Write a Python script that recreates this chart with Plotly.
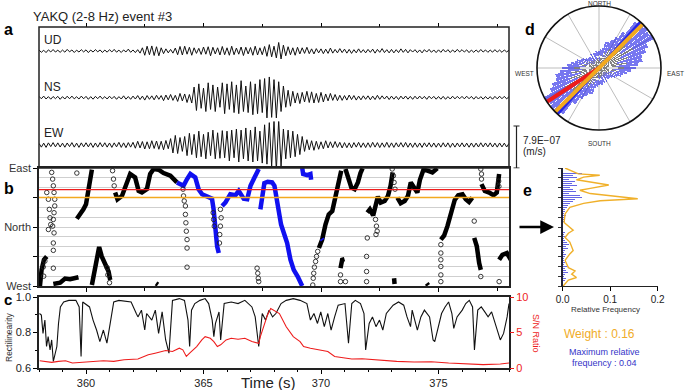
import numpy as np
import plotly.graph_objects as go

W, H = 685, 390
def fx(p): return p / W
def fy(p): return 1 - p / H

FONT = "Liberation Sans, Arial, sans-serif"

# ---------------- panel a : waveforms (nm/s), sampled every 0.1 s from 358 s
T0, DT = 358.0, 0.1
UD = [20,-25,15,-30,22,-18,28,-20,15,-25, 18,-22,30,-15,20,-28,16,-20,25,-18,
      22,-30,18,-20,26,-15,20,-28,18,-22, 25,-18,30,-22,15,-28,20,-18,35,-25,
      20,-30,25,-40,60,-80,90,-70,95,-85, 80,-90,60,-50,40,-35,30,-40,55,-70,
      85,-75,90,-60,70,-80,60,-45,50,-65, 75,-60,80,-90,70,-55,60,-75,85,-70,
      60,-80,90,-70,55,-60,75,-85,70,-55, 65,-80,90,-75,60,-70,85,-100,120,-110,
      90,-130,160,-150,110,-90,80,-70,60,-80, 70,-55,60,-45,70,-50,40,-55,45,-35,
      40,-50,35,-45,55,-40,30,-35,45,-30, 35,-40,30,-45,25,-35,40,-30,25,-35,
      30,-25,35,-40,30,-25,45,-30,25,-35, 30,-35,25,-30,40,-25,30,-35,25,-20,
      25,-30,20,-35,25,-20,30,-25,20,-30, 22,-25,30,-20,25,-28,20,-22,30,-18,
      25,-20,22,-30,18,-25,20,-22,28,-20, 20,-25,18,-22,25,-20,18,-25,20,-18, 15]
NS = [25,-20,30,-25,20,-28,22,-18,25,-30, 20,-25,28,-20,30,-22,18,-25,30,-20,
      25,-30,20,-28,25,-18,30,-22,20,-25, 28,-20,25,-30,20,-25,35,-28,22,-30,
      30,-25,40,-35,30,-45,40,-30,35,-40, 45,-30,40,-55,50,-40,60,-50,45,-70,
      80,-60,70,-90,60,-100,200,-240,260,-200, 180,-260,280,-220,240,-260,200,-180,280,-300,
      260,-220,300,-280,240,-300,320,-260,220,-280, 300,-320,260,-300,340,-280,360,-380,390,-370,
      340,-380,300,-260,220,-180,140,-160,120,-100, 90,-110,100,-80,120,-90,110,-100,80,-90,
      100,-80,70,-60,80,-50,60,-55,45,-50, 40,-45,50,-35,40,-45,30,-40,35,-30,
      35,-40,30,-35,45,-30,35,-25,30,-35, 30,-28,25,-35,30,-25,32,-28,25,-30,
      28,-25,30,-22,25,-30,28,-20,25,-28, 22,-28,25,-30,20,-25,28,-22,25,-20,
      25,-22,28,-20,25,-28,22,-25,20,-28, 22,-25,20,-28,25,-22,28,-20,25,-22, 20]
EW = [30,-40,35,-45,40,-30,45,-35,40,-38, 35,-42,38,-30,45,-40,35,-45,40,-35,
      42,-35,40,-45,38,-40,45,-35,42,-40, 38,-45,40,-35,50,-45,40,-50,45,-40,
      50,-60,70,-55,65,-75,60,-70,80,-65, 75,-80,70,-90,85,-70,120,-150,180,-160,
      140,-120,160,-200,220,-180,200,-240,260,-220, 200,-260,240,-200,280,-260,230,-250,270,-240,
      260,-300,280,-240,300,-320,280,-260,320,-300, 280,-320,340,-300,260,-340,380,-360,420,-400,
      460,-480,470,-400,300,-260,280,-240,260,-220, 200,-180,160,-120,100,-90,80,-100,70,-80,
      60,-70,80,-55,60,-50,65,-45,50,-55, 45,-50,40,-55,45,-40,50,-45,40,-48,
      42,-45,50,-40,45,-48,40,-42,50,-45, 40,-45,42,-38,45,-40,48,-42,38,-45,
      40,-42,38,-45,40,-35,42,-40,38,-42, 35,-40,42,-38,40,-45,35,-40,38,-35,
      40,-38,35,-42,38,-40,35,-38,42,-36, 38,-35,40,-38,35,-40,38,-36,35,-38, 30]
SCALE_BAR = 790.0          # 7.9E-07 m/s in nm/s
SCALE_LABEL = "7.9E\u221207"

# ---------------- panel b : azimuth (deg, East=90, North=0, West=-90)
BLACK_SEGS = [
    ([358.04, 358.11, 358.21, 358.33], [-90, -65.4, -50, -44.9]),
    ([358.61, 358.90, 359.11, 359.32, 359.68], [-86.9, -84.9, -78.7, -79.7, -76.7]),
    ([359.61, 359.75, 359.89, 360.0, 360.10, 360.17, 360.25], [12.6, 19.2, 26.9, 34.6, 55.1, 78.2, 87.4]),
    ([360.25, 360.39, 360.46, 360.56, 360.67, 360.81, 360.96, 361.03], [-88.5, -65.4, -50, -30.5, -44.9, -55.1, -67.9, -80.8]),
    ([361.24, 361.34, 361.53, 361.67, 361.88, 362.09, 362.24, 362.38, 362.59, 362.73, 362.88, 363.09, 363.30, 363.59, 363.87],
     [52.6, 42.3, 47.4, 62.8, 80.8, 75.6, 55.1, 52.6, 57.7, 80.8, 88.5, 87.4, 82.3, 78.2, 68.0]),
    ([362.98, 363.06], [-86, -88]),
    ([369.91, 370.05, 370.19, 370.33, 370.48, 370.58, 370.69, 370.80, 370.86], [-32.1, -19.2, 3.8, 19.2, 24.4, 42.3, 57.7, 75.6, 85.9]),
    ([371.04, 371.14, 371.29, 371.43, 371.57, 371.68, 371.77], [88.5, 75.6, 60.3, 57.7, 68, 82.3, 89.5]),
    ([370.83, 370.90, 371.0], [-62.8, -50, -49]),
    ([371.97, 372.08, 372.22, 372.32, 372.42, 372.54, 372.71, 372.85, 372.96, 373.05], [21.8, 26.9, 17.7, 32.1, 46.4, 37.2, 39.7, 47.4, 62.8, 83.3]),
    ([373.11, 373.13], [-78.2, -86.9]),
    ([373.25, 373.39, 373.56, 373.70, 373.82, 373.99, 374.10, 374.21, 374.36, 374.53, 374.74, 374.95],
     [44.9, 36.2, 39.7, 47.4, 68, 60.3, 52.6, 72, 87.4, 85.9, 83.3, 89.5]),
    ([374.50, 374.56], [-86, -89]),
    ([375.10, 375.24, 375.38, 375.49, 375.59, 375.69, 375.84, 376.02, 376.16, 376.30, 376.44],
     [-19.2, -13, 1.3, 14.1, 26.9, 41.3, 48.5, 50, 42.3, 38.2, 44.9]),
    ([376.83, 376.97, 377.16, 377.34, 377.48, 377.58], [65.4, 55.1, 52.6, 48.5, 52.6, 80.8]),
    ([376.52, 376.63, 376.73, 376.80], [-16.7, -29.5, -55.1, -65.4]),
    ([377.58, 377.72, 377.91, 378.08], [-50, -42.3, -39.7, -50]),
]
BLUE_SEGS = [
    ([363.87, 364.15, 364.30, 364.44, 364.65, 364.79, 364.94, 365.15, 365.36, 365.43, 365.51, 365.58, 365.65],
     [68, 62.8, 73.1, 80.8, 75.6, 57.7, 50, 46.4, 43.3, 26.9, -9, -29.5, -39.7]),
    ([365.79, 365.93, 366.14, 366.36, 366.50, 366.71, 366.86, 367.00, 367.17, 367.35],
     [32.1, 37.2, 50, 48.5, 55.1, 43.3, 42.3, 62.8, 75.6, 88.5]),
    ([367.42, 367.49, 367.59, 367.73, 367.92, 368.02, 368.10, 368.20, 368.30, 368.44, 368.56, 368.70, 368.84, 369.01, 369.20],
     [26.9, 47.4, 66.9, 69, 68, 62.8, 44.9, 26.9, 3.8, -11.5, -24.4, -50, -65.4, -75.6, -90]),
    ([369.20, 369.24, 369.41, 369.55, 369.58], [90, 80.8, 79.2, 80.8, 72]),
    ([370.03, 370.07], [-18, -20]),
]
CIRC_T = [358.54, 358.58, 358.61, 358.64, 358.67, 358.67, 358.64, 358.61, 358.58, 358.64, 358.61, 358.61,
          358.33, 358.40, 358.44, 358.47, 358.50, 358.40, 358.61, 358.18, 358.25, 358.20, 359.61,
          361.13, 361.17, 361.20, 360.93, 361.00, 360.90,
          364.13, 364.15, 364.18, 364.23, 364.23, 364.25, 364.27, 364.30, 364.30, 364.30,
          365.41, 365.43, 365.46, 365.72, 365.75, 365.72, 365.69, 365.68,
          367.28, 367.31, 367.33, 367.35,
          369.65, 369.67, 369.69, 369.72, 369.77, 369.81, 369.86,
          371.97, 371.94, 371.94, 371.94, 370.83, 371.04, 370.83,
          372.32, 372.36, 372.39, 372.34, 373.03, 373.08, 373.11, 373.15,
          375.10, 375.10, 375.10, 375.10, 375.10, 375.10, 376.52,
          376.80, 376.83, 376.83, 377.58, 377.56, 377.57, 376.80]
CIRC_AZ = [83.3, 73.1, 62.8, 52.6, 42.3, 32.1, 21.8, 11.5, 1.3, -9, -24.4, -35.6,
           52.6, 42.3, 26.9, 14.1, 3.8, -3.8, -62.8, -61, -52, -75, 82.3,
           85.9, 73.1, 62.8, -73, -85, -62,
           57.7, 47.4, 39.7, 32.1, 19.2, 6.4, -6.4, -19.2, -32.1, -61.3,
           21.8, 11.5, 1.3, 26.9, 14.1, 1.3, -11.5, -24.4,
           -62.8, -70.5, -78.2, -83.3,
           -88.5, -78.2, -70.5, -61.3, -52.6, -44.9, -37.2,
           -16.7, -44.9, -67.9, -83.3, -73.1, -83.3, -83.3,
           11.5, 1.3, -6.4, -11.5, 88.5, 78.2, 68, 57.7,
           -26.9, -39.7, -50, -60.3, -73.1, -83.3, 9,
           88.5, 80.8, 73.1, -83.3, 70, 62, -75.6]
RED_AZ = 57       # direction marked in red
ORANGE_AZ = 45    # weighted direction (orange)
BLUE_LINE_AZ = 42 # maximum relative frequency direction

# ---------------- panel c
RECT_T = [358.02, 358.10, 358.17, 358.25, 358.32, 358.39, 358.47, 358.54, 358.61, 358.69, 358.76, 358.83, 358.91,
          359.05, 359.27, 359.57, 359.71, 359.79, 359.86, 360.15, 360.30, 360.45, 360.59, 360.74, 360.89, 361.03,
          361.18, 361.40, 361.62, 361.92, 362.14, 362.21, 362.36, 362.50, 362.58, 362.80, 362.95, 363.09, 363.24,
          363.39, 363.53, 363.68, 363.97, 364.19, 364.34, 364.41, 364.49, 364.63, 364.85, 365.07, 365.22, 365.37,
          365.44, 365.51, 365.66, 365.73, 365.88, 366.18, 366.47, 366.76, 367.06, 367.20, 367.35, 367.50, 367.64,
          367.79, 367.94, 368.08, 368.30, 368.52, 368.82, 369.11, 369.40, 369.55, 369.70, 369.85, 369.99, 370.14,
          370.29, 370.43, 370.58, 370.73, 371.02, 371.09, 371.17, 371.31, 371.46, 371.68, 371.83, 371.90, 372.05,
          372.19, 372.34, 372.49, 372.63, 372.78, 373.07, 373.30, 373.52, 373.66, 373.81, 373.88, 374.10, 374.25,
          374.40, 374.62, 374.77, 374.84, 374.99, 375.13, 375.28, 375.43, 375.57, 375.65, 375.79, 376.01, 376.16,
          376.31, 376.45, 376.53, 376.67, 376.82, 376.97, 377.11, 377.26, 377.41, 377.48, 377.63, 377.77, 377.92, 378.0]
RECT_V = [0.907, 0.898, 0.795, 0.870, 0.721, 0.777, 0.702, 0.758, 0.637, 0.684, 0.721, 0.851, 0.944,
          0.972, 0.981, 0.981, 0.944, 0.665, 0.972, 0.944, 0.870, 0.814, 0.749, 0.814, 0.740, 0.851,
          0.972, 0.981, 0.978, 0.972, 0.907, 0.888, 0.926, 0.814, 0.907, 0.870, 0.926, 0.795, 0.916,
          0.758, 0.684, 0.981, 0.991, 0.981, 0.870, 0.721, 0.926, 0.963, 0.981, 0.991, 0.963, 0.870,
          0.777, 0.851, 0.916, 0.758, 0.963, 0.972, 0.963, 0.981, 0.944, 0.888, 0.721, 0.907, 0.870,
          0.926, 0.888, 0.907, 0.963, 0.981, 0.991, 0.981, 0.963, 0.870, 0.907, 0.851, 0.916, 0.833,
          0.907, 0.814, 0.888, 0.954, 0.963, 0.851, 0.740, 0.963, 0.981, 0.963, 0.907, 0.702, 0.851,
          0.888, 0.833, 0.870, 0.814, 0.907, 0.954, 0.972, 0.954, 0.888, 0.833, 0.926, 0.814, 0.888,
          0.926, 0.888, 0.758, 0.749, 0.833, 0.907, 0.944, 0.972, 0.907, 0.823, 0.888, 0.926, 0.963,
          0.981, 0.944, 0.702, 0.926, 0.944, 0.916, 0.888, 0.916, 0.851, 0.814, 0.758, 0.795, 0.888, 0.963]
SN_T = [358.03, 358.54, 358.83, 359.13, 359.42, 359.86, 360.30, 360.74, 361.18, 361.62, 362.21, 362.65, 362.94,
        363.39, 363.68, 363.97, 364.12, 364.27, 364.41, 364.71, 364.93, 365.07, 365.29, 365.44, 365.59, 365.73,
        365.96, 366.18, 366.47, 366.76, 367.06, 367.35, 367.42, 367.57, 367.72, 367.86, 368.08, 368.23, 368.52,
        368.82, 369.11, 369.26, 369.55, 369.85, 370.29, 370.58, 371.02, 371.31, 371.75, 372.19, 372.78, 373.22,
        373.96, 374.69, 375.43, 376.16, 376.90, 377.63, 378.0]
SN_V = [1.02, 0.79, 0.93, 1.02, 0.70, 0.84, 0.93, 1.02, 0.93, 1.16, 1.26, 1.86, 2.09,
        2.47, 2.33, 2.79, 2.56, 1.63, 2.09, 3.02, 3.95, 4.42, 4.19, 3.72, 3.02, 3.26,
        3.95, 4.19, 4.05, 4.19, 3.72, 3.49, 4.42, 5.81, 7.44, 8.37, 7.91, 7.67, 5.81,
        4.42, 3.72, 3.02, 2.79, 2.56, 2.33, 1.63, 1.40, 1.26, 1.30, 1.16, 1.07, 0.93,
        0.84, 0.88, 0.70, 0.60, 0.47, 0.56, 0.70]

# ---------------- panel d : rose diagram (axial, 5 deg bins, fraction of radius)
ROSE_THETA = [0, 5, 10, 15, 20, 25, 30, 35, 40, 45, 50, 55, 60, 65, 70, 75, 80, 85,
              90, 95, 100, 105, 110, 115, 120, 125, 130, 135, 140, 145, 150, 155, 160, 165, 170, 175]
ROSE_GRAY = [.15, .12, .22, .18, .28, .20, .35, .30, .45, .40, .55, .42, .62, .38, .50, .30, .45, .28,
             .40, .22, .30, .18, .26, .14, .20, .12, .16, .10, .14, .12, .15, .10, .16, .12, .20, .14]
ROSE_BLUE = [.12, .18, .10, .25, .16, .30, .22, .40, .50, .70, .45, .55, .40, .48, .30, .42, .26, .35,
             .20, .30, .16, .22, .12, .18, .10, .14, .08, .12, .10, .08, .12, .06, .10, .14, .08, .12]
ROSE_LABELS = ["NORTH", "EAST", "SOUTH", "WEST"]

# ---------------- panel e
E_BLUE_AZ = [90, 87, 84, 81, 78, 75, 72, 69, 66, 63, 60, 57, 54, 51, 48, 45, 42, 39, 36, 33, 30, 27, 24, 21,
             18, 15, 12, 9, 6, 3, 0, -3, -6, -9, -12, -15, -18, -21, -24, -27, -30, -33, -36, -39, -42, -45,
             -48, -51, -54, -57, -60, -63, -66, -69, -72, -75, -78, -81, -84, -87, -90]
E_BLUE_RF = [.020, .035, .015, .040, .020, .030, .012, .025, .018, .030, .015, .022, .028, .012, .035, .040,
             .025, .020, .015, .010, .008, .005, .004, .003, .006, .003, .004, .002, .005, .004, .015, .010,
             .008, .004, .003, .006, .002, .004, .008, .012, .006, .010, .004, .003, .007, .004, .002, .003,
             .005, .003, .008, .004, .006, .010, .005, .003, .006, .004, .007, .003, .002]
E_OR_AZ = [90, 87, 81, 79, 76, 72, 69, 64, 59, 56, 51, 47, 43, 40, 36, 30, 20, 7, -0.3, -5, -9.5, -16, -23,
           -36, -41, -51, -62, -67, -72, -77, -81, -87, -90]
E_OR_RF = [.005, .015, .033, .078, .044, .029, .058, .097, .058, .036, .058, .114, .158, .079, .044, .015, .005,
           .003, .015, .022, .012, .005, .015, .022, .015, .005, .012, .026, .019, .029, .012, .005, .001]
WEIGHT = 0.16
MAX_REL = 0.04

# ---------------- colours
ORANGE = "#f2a91f"
RED = "#ee1c1c"

fig = go.Figure()

# panel a traces
t_ud = T0 + DT * np.arange(len(UD))
t_ns = T0 + DT * np.arange(len(NS))
t_ew = T0 + DT * np.arange(len(EW))
for tt, vv, ya in [(t_ud, UD, "y"), (t_ns, NS, "y2"), (t_ew, EW, "y3")]:
    fig.add_trace(go.Scatter(x=tt, y=vv, mode="lines", line=dict(color="#111", width=1),
                             xaxis="x", yaxis=ya, hoverinfo="skip"))

# panel b traces
for tt, aa in BLACK_SEGS:
    fig.add_trace(go.Scatter(x=tt, y=aa, mode="lines", line=dict(color="#000", width=4.5),
                             xaxis="x2", yaxis="y4", hoverinfo="skip"))
for tt, aa in BLUE_SEGS:
    fig.add_trace(go.Scatter(x=tt, y=aa, mode="lines", line=dict(color="#1010f0", width=4.5),
                             xaxis="x2", yaxis="y4", hoverinfo="skip"))
fig.add_trace(go.Scatter(x=CIRC_T, y=CIRC_AZ, mode="markers",
                         marker=dict(symbol="circle-open", size=4.5, color="#222", line=dict(width=0.9)),
                         xaxis="x2", yaxis="y4", hoverinfo="skip"))

# panel c traces
fig.add_trace(go.Scatter(x=RECT_T, y=RECT_V, mode="lines", line=dict(color="#111", width=1.1),
                         xaxis="x3", yaxis="y5", hoverinfo="skip"))
fig.add_trace(go.Scatter(x=SN_T, y=SN_V, mode="lines", line=dict(color=RED, width=1.1),
                         xaxis="x3", yaxis="y6", hoverinfo="skip"))

# panel d: rose
th_full = ROSE_THETA + [t + 180 for t in ROSE_THETA]
fig.add_trace(go.Barpolar(theta=th_full, r=ROSE_GRAY + ROSE_GRAY, width=[3.0] * len(th_full),
                          marker=dict(color="rgba(110,110,110,0.85)", line=dict(width=0)),
                          subplot="polar", hoverinfo="skip"))
fig.add_trace(go.Barpolar(theta=th_full, r=ROSE_BLUE + ROSE_BLUE, width=[4.5] * len(th_full),
                          marker=dict(color="rgba(35,35,230,0.62)", line=dict(width=0)),
                          subplot="polar", hoverinfo="skip"))
fig.add_trace(go.Scatterpolar(r=[1, 0, 1], theta=[BLUE_LINE_AZ, BLUE_LINE_AZ, BLUE_LINE_AZ + 180], mode="lines",
                              line=dict(color="#2525e8", width=3), subplot="polar", hoverinfo="skip"))
fig.add_trace(go.Scatterpolar(r=[0, 1], theta=[RED_AZ + 180, RED_AZ + 180], mode="lines",
                              line=dict(color=RED, width=4), subplot="polar", hoverinfo="skip"))
fig.add_trace(go.Scatterpolar(r=[1, 0, 1], theta=[ORANGE_AZ, ORANGE_AZ, ORANGE_AZ + 180], mode="lines",
                              line=dict(color=ORANGE, width=4), subplot="polar", hoverinfo="skip"))

# panel e
fig.add_trace(go.Bar(x=E_BLUE_RF, y=E_BLUE_AZ, orientation="h", width=1.3,
                     marker=dict(color="rgba(50,50,220,0.75)", line=dict(width=0)),
                     xaxis="x4", yaxis="y7", hoverinfo="skip"))
fig.add_trace(go.Scatter(x=E_OR_RF, y=E_OR_AZ, mode="lines", line=dict(color="#f0b02a", width=1.4),
                         xaxis="x4", yaxis="y7", hoverinfo="skip"))

# ---------------- layout
XL, XR = 39, 509
xdom = [fx(XL), fx(XR)]
px_per_unit = 18.8  # nm/s per pixel

def ydom(center, half):
    return [fy(center + half), fy(center - half)]

tick_common = dict(ticks="outside", ticklen=4, tickcolor="#000", showgrid=False, zeroline=False,
                   automargin=False)

layout = dict(
    width=W, height=H, margin=dict(l=0, r=0, t=0, b=0, autoexpand=False),
    paper_bgcolor="white", plot_bgcolor="white", showlegend=False,
    font=dict(family=FONT, color="#222"),
    bargap=0,
    xaxis=dict(domain=xdom, range=[358, 378], anchor="free", position=fy(27), side="top",
               showticklabels=False, tickvals=[360, 365, 370, 375],
               minor=dict(ticks="outside", ticklen=3, tickvals=[362.5, 367.5, 372.5, 377.5], tickcolor="#000"),
               **tick_common),
    yaxis=dict(domain=ydom(51, 24), range=[-24 * px_per_unit, 24 * px_per_unit], visible=False, anchor="x",
               automargin=False),
    yaxis2=dict(domain=ydom(97.7, 30), range=[-30 * px_per_unit, 30 * px_per_unit], visible=False, anchor="x",
                automargin=False),
    yaxis3=dict(domain=ydom(145, 23.5), range=[-23.5 * px_per_unit, 23.5 * px_per_unit], visible=False,
                anchor="x", automargin=False),
    xaxis2=dict(domain=xdom, range=[358, 378], anchor="y4", showticklabels=False,
                tickvals=[360, 365, 370, 375],
                minor=dict(ticks="outside", ticklen=3, tickvals=[362.5, 367.5, 372.5, 377.5], tickcolor="#000"),
                showline=True, mirror=True, linecolor="#222", linewidth=1.5, **tick_common),
    yaxis4=dict(domain=[fy(286), fy(168)], range=[-90, 90], anchor="x2", automargin=False,
                tickvals=[-90, -45, 0, 45, 90], ticktext=["West", "", "North", "", "East"],
                tickfont=dict(size=11, color="#333"), ticks="outside", ticklen=4, tickcolor="#000",
                showgrid=True, gridcolor="#cfcfcf", gridwidth=1, zeroline=False,
                minor=dict(dtick=15, tick0=0, showgrid=True, gridcolor="#cfcfcf", gridwidth=1),
                showline=True, mirror=True, linecolor="#222", linewidth=1.5),
    xaxis3=dict(domain=xdom, range=[358, 378], anchor="y5", tickvals=[360, 365, 370, 375],
                tickfont=dict(size=11, color="#222"),
                minor=dict(ticks="outside", ticklen=2, dtick=1, tickcolor="#000"),
                showline=True, mirror=True, linecolor="#222", linewidth=1.5, **tick_common),
    yaxis5=dict(domain=[fy(368), fy(297)], range=[0.6, 1.0], anchor="x3",
                tickvals=[0.6, 0.8, 1.0], ticktext=["0.6", "0.8", "1.0"], tickfont=dict(size=11, color="#222"),
                minor=dict(ticks="outside", ticklen=2, dtick=0.1, tickcolor="#000"),
                showline=True, mirror=True, linecolor="#222", linewidth=1.5, **tick_common),
    yaxis6=dict(range=[0, 10], overlaying="y5", anchor="x3", side="right", automargin=False,
                tickvals=[0, 5, 10], tickfont=dict(size=11, color=RED),
                ticks="outside", ticklen=4, tickcolor=RED, showgrid=False, zeroline=False, showline=False),
    xaxis4=dict(domain=[fx(562.7), fx(657.7)], range=[0, 0.2], anchor="y7",
                tickvals=[0, 0.1, 0.2], ticktext=["0.0", "0.1", "0.2"], tickfont=dict(size=10, color="#222"),
                showline=True, linecolor="#222", linewidth=1.2, **tick_common),
    yaxis7=dict(domain=[fy(286), fy(168)], range=[-90, 90], anchor="x4", automargin=False,
                tickvals=[-90, -75, -60, -45, -30, -15, 0, 15, 30, 45, 60, 75, 90], showticklabels=False,
                ticks="outside", ticklen=3, tickcolor="#333", showgrid=False, zeroline=False,
                showline=True, linecolor="#223", linewidth=1.5),
    polar=dict(domain=dict(x=[fx(537), fx(661)], y=[fy(130), fy(6)]),
               bgcolor="white",
               radialaxis=dict(visible=False, range=[0, 1]),
               angularaxis=dict(rotation=90, direction="clockwise",
                                tickvals=list(range(0, 360, 30)), showticklabels=False, ticks="",
                                showgrid=True, gridcolor="#bdbdbd", gridwidth=1,
                                showline=True, linecolor="#111", linewidth=1.6)),
)
fig.update_layout(**layout)

# shapes
shapes = [
    dict(type="rect", xref="paper", yref="paper", x0=fx(XL), x1=fx(XR), y0=fy(168), y1=fy(27),
         line=dict(color="#222", width=1.5), fillcolor="rgba(0,0,0,0)", layer="above"),
    dict(type="line", xref="x2 domain", yref="y4", x0=0, x1=1, y0=RED_AZ, y1=RED_AZ,
         line=dict(color=RED, width=1.2)),
    dict(type="line", xref="x2 domain", yref="y4", x0=0, x1=1, y0=ORANGE_AZ, y1=ORANGE_AZ,
         line=dict(color=ORANGE, width=1.5)),
]
# scale bar (EW axis units)
sb_low = -23 * px_per_unit
sb_x = fx(516.5)
shapes += [
    dict(type="line", xref="paper", yref="y3", x0=sb_x, x1=sb_x, y0=sb_low, y1=sb_low + SCALE_BAR,
         line=dict(color="#222", width=1.2)),
    dict(type="line", xref="paper", yref="y3", x0=sb_x - 3 / W, x1=sb_x + 3 / W, y0=sb_low, y1=sb_low,
         line=dict(color="#222", width=1.2)),
    dict(type="line", xref="paper", yref="y3", x0=sb_x - 3 / W, x1=sb_x + 3 / W,
         y0=sb_low + SCALE_BAR, y1=sb_low + SCALE_BAR, line=dict(color="#222", width=1.2)),
]
fig.update_layout(shapes=shapes)

def ann(text, x, y, size=11, color="#222", xanchor="left", yanchor="middle", bold=False, angle=0):
    if bold:
        text = "<b>" + text + "</b>"
    return dict(text=text, x=fx(x), y=fy(y), xref="paper", yref="paper", showarrow=False,
                xanchor=xanchor, yanchor=yanchor, textangle=angle,
                font=dict(size=size, color=color, family=FONT))

annotations = [
    ann("YAKQ (2-8 Hz) event #3", 31, 17, size=13),
    ann("a", 2, 30, size=16, color="#000", bold=True),
    ann("b", 2, 188, size=16, color="#000", bold=True),
    ann("c", 2, 299, size=15, color="#000", bold=True),
    ann("d", 523, 30, size=16, color="#000", bold=True),
    ann("e", 521, 190, size=16, color="#000", bold=True),
    ann("UD", 42, 40, size=12),
    ann("NS", 42, 87, size=12),
    ann("EW", 42, 133, size=12),
    ann(SCALE_LABEL, 521, 140, size=10),
    ann("(m/s)", 521, 152, size=10),
    ann("Rectilinearity", 9, 338, size=8.5, color="#333", xanchor="center", angle=-90),
    ann("S/N Ratio", 536, 333, size=9, color=RED, xanchor="center", angle=90),
    ann("Time (s)", 268, 382, size=15, xanchor="center"),
    ann("Relative Frequency", 605, 309, size=8, xanchor="center", color="#333"),
    ann("Weight : %.2f" % WEIGHT, 599, 334, size=12, color="#f0ac2a", xanchor="center"),
    ann("Maximum relative", 604, 352, size=9, color="#3434c8", xanchor="center"),
    ann("frequency : %.2f" % MAX_REL, 604, 363, size=9, color="#3434c8", xanchor="center"),
    ann(ROSE_LABELS[0], 599, 4, size=6.5, color="#333", xanchor="center"),
    ann(ROSE_LABELS[1], 675, 73, size=6.5, color="#333", xanchor="center"),
    ann(ROSE_LABELS[2], 599, 143, size=6.5, color="#333", xanchor="center"),
    ann(ROSE_LABELS[3], 524, 73, size=6.5, color="#333", xanchor="center"),
    dict(x=fx(554), y=fy(227), xref="paper", yref="paper", ax=-36, ay=0, axref="pixel", ayref="pixel",
         showarrow=True, arrowhead=2, arrowsize=1.1, arrowwidth=2.5, arrowcolor="#000", text=""),
]
fig.update_layout(annotations=annotations)

fig.write_html("out.html", config={"displayModeBar": False, "responsive": False},
               post_script="document.body.style.margin='0';document.body.style.padding='0';"
                           "document.body.style.overflow='hidden';")
